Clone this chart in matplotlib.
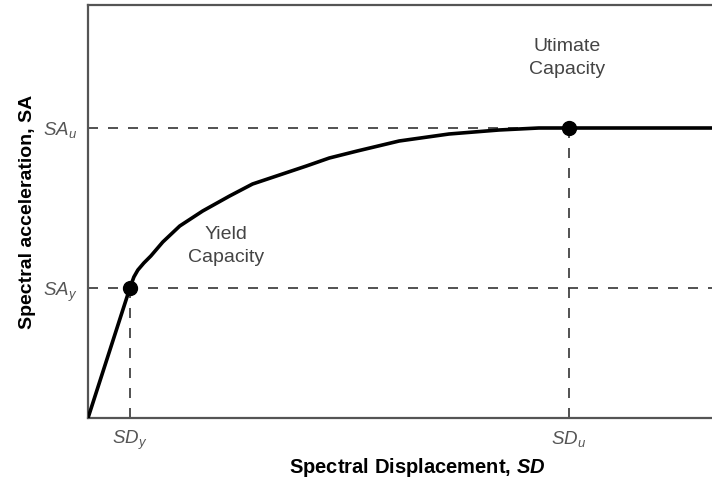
import matplotlib.pyplot as plt

plt.rcParams['font.family'] = ['Liberation Sans', 'DejaVu Sans']
plt.rcParams['mathtext.fontset'] = 'custom'
plt.rcParams['mathtext.rm'] = 'Liberation Sans'
plt.rcParams['mathtext.it'] = 'Liberation Sans:italic'
plt.rcParams['mathtext.bf'] = 'Liberation Sans:bold'
plt.rcParams['mathtext.bfit'] = 'Liberation Sans:italic:bold'

# capacity curve (spectral displacement, spectral acceleration), arbitrary units
sd = [0, 42, 46, 50, 56, 63, 75, 92, 115, 142, 165, 192, 219, 242, 270, 312, 362, 412, 452, 482, 640]
sa = [0, 130, 141, 148, 155, 162, 176, 192, 207, 222, 234, 243, 252, 260, 267, 277, 284, 288, 290, 290, 290]

sd_y, sa_y = 42, 130
sd_u, sa_u = 482, 290

fig = plt.figure(figsize=(7.12, 4.78), dpi=100)
ax = fig.add_axes([88 / 712, 60 / 478, 1 - 88 / 712 + 0.02, 413 / 478])

dash = dict(color='#333333', lw=1.2, ls=(0, (6, 6)))
ax.axhline(sa_u, **dash)
ax.axhline(sa_y, **dash)
ax.plot([sd_y, sd_y], [0, sa_y], **dash)
ax.plot([sd_u, sd_u], [0, sa_u], **dash)

ax.plot(sd, sa, color='black', lw=2.6, solid_capstyle='round',
        solid_joinstyle='round', zorder=3)
ax.plot([sd_y, sd_u], [sa_y, sa_u], 'o', color='black', ms=10, zorder=4)

ax.text(480, 360, 'Utimate\nCapacity', ha='center', va='center', fontsize=14,
        color='#444444', linespacing=1.5)
ax.text(138, 172, 'Yield\nCapacity', ha='center', va='center', fontsize=14,
        color='#444444', linespacing=1.5)

ax.set_xlim(0, 640)
ax.set_ylim(0, 413)
ax.set_xticks([sd_y, sd_u])
ax.set_xticklabels(['$SD_y$', '$SD_u$'], color='#555555', fontsize=13.5)
ax.set_yticks([sa_y, sa_u])
ax.set_yticklabels(['$SA_y$', '$SA_u$'], color='#555555', fontsize=13.5)
ax.tick_params(length=0, pad=8)

for s in ['left', 'top', 'bottom']:
    ax.spines[s].set_color('#555555')
    ax.spines[s].set_linewidth(1.6)
ax.spines['right'].set_visible(False)

ax.set_xlabel('Spectral Displacement, $\\mathbfit{SD}$', fontsize=14.5,
              fontweight='bold')
ax.xaxis.set_label_coords(0.5155, -0.092)
ax.set_ylabel('Spectral acceleration, SA', fontsize=14, fontweight='bold',
              labelpad=5)

fig.savefig('out.png', dpi=100)
